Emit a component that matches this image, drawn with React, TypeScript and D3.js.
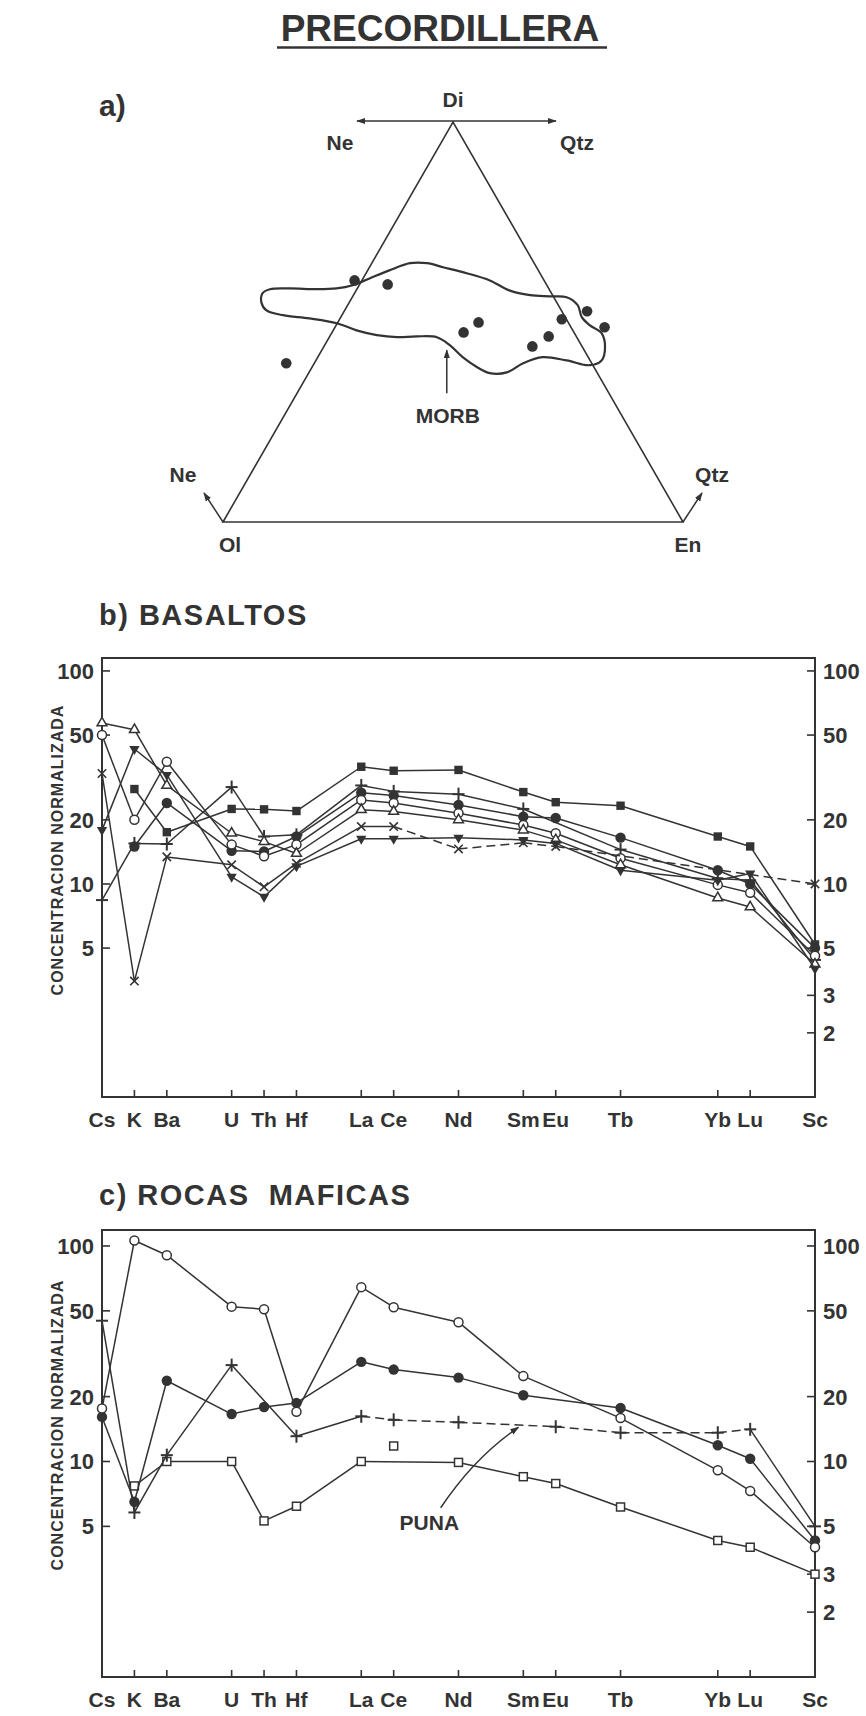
import React from "react";
import * as d3 from "d3";

// ---------------- data ----------------
const elements = ["Cs", "K", "Ba", "U", "Th", "Hf", "La", "Ce", "Nd", "Sm", "Eu", "Tb", "Yb", "Lu", "Sc"];
const elementSlots = [0, 1, 2, 4, 5, 6, 8, 9, 11, 13, 14, 16, 19, 20, 22];
const leftTicks = [100, 50, 20, 10, 5];
const rightTicks = [100, 50, 20, 10, 5, 3, 2];

// b) BASALTOS  (null = not plotted)
const basOpenCircle = [50, 20, 37.5, 15.3, 13.5, 15.3, 24.8, 24, 21.5, 18.9, 17.3, 13.2, 9.9, 9.1, 4.6];
const basOpenTriangle = [57, 53, 29, 17.3, 15.8, 13.9, 22.3, 21.9, 20, 17.9, 16.1, 12.3, 8.6, 7.8, 4.2];
const basFilledCircle = [null, 15, 24, 14.3, 14.2, 16.7, 26.8, 26, 23.5, 20.7, 20.4, 16.5, 11.6, 10, 5.0];
const basFilledSquare = [null, 27.9, 17.5, 22.5, 22.4, 22, 35.5, 34, 34.3, 27, 24.2, 23.3, 16.7, 15, 5.2];
const basPlus = [8.4, 15.5, 15.4, 28.5, 16.7, 17, 29, 27.2, 26.4, 22.5, null, 14.5, 10.6, 10.4, 4.4];
const basCross = [33, 3.5, 13.4, 12.3, 9.7, 12.5, 18.6, 18.6, 14.6, 15.6, 15, null, null, null, 10];
const basFilledDown = [17.9, 43, 32.5, 10.8, 8.7, 12.1, 16.3, 16.3, 16.5, 16.1, 15.5, 11.6, 10.4, 11.2, 4.0];

// c) ROCAS MAFICAS
const mafOpenCircle = [17.6, 106, 90.6, 52.3, 50.9, 17.0, 64.4, 52, 44.3, 24.9, null, 15.9, 9.1, 7.3, 4.0];
const mafFilledCircle = [16.1, 6.5, 23.7, 16.6, 17.9, 18.7, 29.0, 26.7, 24.5, 20.3, null, 17.7, 11.9, 10.3, 4.3];
const mafPlus = [45, 5.8, 10.7, 28, null, 13.1, 16.2, 15.6, 15.2, null, 14.5, 13.6, 13.6, 14.1, 5.0];
const mafOpenSquare = [null, 7.7, 10, 10, 5.3, 6.2, 10, null, 9.9, 8.5, 7.9, 6.15, 4.3, 4.0, 3.0];
const mafLoneSquare = [null, null, null, null, null, null, null, 11.8, null, null, null, null, null, null, null];

// a) Ol-Di-En projection (percent Di, percent En; Ol = 100 - Di - En)
const dotDi = [60.4, 59.4, 39.7, 47.4, 49.9, 43.9, 46.4, 50.7, 52.7, 48.7];
const dotEn = [-1.6, 6.1, -6.1, 28.6, 30.6, 45.3, 47.6, 48.3, 52.8, 58.6];
const morbDi = [57.2, 58.2, 58.4, 58.2, 58.4, 59.2, 60.9, 62.9, 64.7, 64.7, 63.7, 62.2, 60.4, 57.9, 56.7, 56.4, 56.2, 54.2, 51.2, 49.2, 47.2, 43.7, 40.4, 39.2, 40.4, 41.2, 39.7, 37.4, 37.2, 38.7, 41.2, 44.2, 46.2, 46.4, 46.2, 46.7, 47.9, 49.7, 50.9, 51.7, 52.9, 54.9];
const morbEn = [-20.0, -18.9, -14.7, -8.7, -4.5, -1.4, 1.4, 4.7, 8.3, 12.0, 16.0, 21.9, 27.8, 33.3, 38.4, 42.8, 46.6, 50.0, 52.4, 55.1, 58.7, 61.2, 62.1, 60.1, 54.5, 48.9, 45.4, 43.0, 39.4, 35.9, 31.5, 27.2, 23.4, 18.9, 14.7, 10.1, 5.1, -0.1, -6.7, -12.8, -17.0, -19.1];

// ---------------- style ----------------
const W = 866;
const H = 1716;
const FONT = "'Liberation Sans', Arial, Helvetica, sans-serif";
const INK = "#333333";

type Mk = "oc" | "fc" | "ot" | "fs" | "os" | "plus" | "x" | "fv";
interface Series {
  values: (number | null)[];
  marker: Mk;
  dashFrom?: number;
  dashTo?: number;
  noLine?: boolean;
}

function Marker({ m, cx, cy }: { m: Mk; cx: number; cy: number }) {
  const sw = 1.5;
  switch (m) {
    case "oc":
      return <circle cx={cx} cy={cy} r={4.5} fill="#fff" stroke={INK} strokeWidth={sw} />;
    case "fc":
      return <circle cx={cx} cy={cy} r={5.2} fill={INK} />;
    case "ot":
      return (
        <path
          d={d3.symbol().type(d3.symbolTriangle).size(42)()!}
          transform={`translate(${cx},${cy})`}
          fill="#fff"
          stroke={INK}
          strokeWidth={sw}
        />
      );
    case "fv":
      return (
        <path
          d={d3.symbol().type(d3.symbolTriangle).size(46)()!}
          transform={`translate(${cx},${cy}) rotate(180)`}
          fill={INK}
        />
      );
    case "fs":
      return <rect x={cx - 4.2} y={cy - 4.2} width={8.4} height={8.4} fill={INK} />;
    case "os":
      return <rect x={cx - 4} y={cy - 4} width={8} height={8} fill="#fff" stroke={INK} strokeWidth={sw} />;
    case "plus":
      return (
        <g stroke={INK} strokeWidth={2}>
          <line x1={cx - 6} y1={cy} x2={cx + 6} y2={cy} />
          <line x1={cx} y1={cy - 6.5} x2={cx} y2={cy + 6.5} />
        </g>
      );
    case "x":
      return (
        <g stroke={INK} strokeWidth={1.6}>
          <line x1={cx - 4.2} y1={cy - 4.2} x2={cx + 4.2} y2={cy + 4.2} />
          <line x1={cx - 4.2} y1={cy + 4.2} x2={cx + 4.2} y2={cy - 4.2} />
        </g>
      );
  }
  return null;
}

interface PanelProps {
  top: number;
  bottom: number;
  ymax: number;
  title: string;
  titleY: number;
  series: Series[];
  titleSpacing: number;
  axisTitleCy: number;
  children?: (x: d3.ScaleLinear<number, number>, y: d3.ScaleLogarithmic<number, number>) => React.ReactNode;
}

function Panel({ top, bottom, ymax, title, titleY, series, titleSpacing, axisTitleCy, children }: PanelProps) {
  const left = 102;
  const right = 815;
  const x = d3.scaleLinear().domain([0, 22]).range([left, right]);
  const y = d3.scaleLog().domain([1, ymax]).range([bottom, top]);

  const lineGen = d3
    .line<[number, number]>()
    .x((d) => d[0])
    .y((d) => d[1]);

  const seriesEls = series.map((s, si) => {
    const pts = s.values
      .map((v, i) => ({ v, i }))
      .filter((d) => d.v !== null) as { v: number; i: number }[];
    const segs: React.ReactNode[] = [];
    if (!s.noLine) {
      for (let k = 0; k < pts.length - 1; k++) {
        const a = pts[k];
        const b = pts[k + 1];
        const dashed =
          s.dashFrom !== undefined && a.i >= s.dashFrom && (s.dashTo === undefined || b.i <= s.dashTo);
        segs.push(
          <path
            key={`l${si}-${k}`}
            d={lineGen([
              [x(elementSlots[a.i]), y(a.v)],
              [x(elementSlots[b.i]), y(b.v)],
            ])!}
            fill="none"
            stroke={INK}
            strokeWidth={1.5}
            strokeDasharray={dashed ? "9,5" : undefined}
          />
        );
      }
    }
    const marks = pts.map((p, k) => (
      <Marker key={`m${si}-${k}`} m={s.marker} cx={x(elementSlots[p.i])} cy={y(p.v)} />
    ));
    return (
      <g key={si}>
        {segs}
        {marks}
      </g>
    );
  });

  return (
    <g>
      <text
        x={99}
        y={titleY}
        fontFamily={FONT}
        fontWeight="bold"
        fontSize={29}
        letterSpacing={titleSpacing}
        fill={INK}
        style={{ whiteSpace: "pre" }}
      >
        {title}
      </text>
      <text
        transform={`translate(63,${axisTitleCy}) rotate(-90)`}
        textAnchor="middle"
        fontFamily={FONT}
        fontWeight="bold"
        fontSize={16}
        letterSpacing={1}
        fill={INK}
      >
        CONCENTRACION NORMALIZADA
      </text>
      <rect x={left} y={top} width={right - left} height={bottom - top} fill="none" stroke={INK} strokeWidth={2} />
      {leftTicks.map((t) => (
        <g key={`lt${t}`}>
          <line x1={left} x2={left + 8} y1={y(t)} y2={y(t)} stroke={INK} strokeWidth={1.6} />
          <text x={94} y={y(t)} dy="0.36em" textAnchor="end" fontFamily={FONT} fontWeight="bold" fontSize={22} fill={INK}>
            {t}
          </text>
        </g>
      ))}
      {rightTicks.map((t) => (
        <g key={`rt${t}`}>
          <line x1={right - 8} x2={right} y1={y(t)} y2={y(t)} stroke={INK} strokeWidth={1.6} />
          <text x={823} y={y(t)} dy="0.36em" textAnchor="start" fontFamily={FONT} fontWeight="bold" fontSize={22} fill={INK}>
            {t}
          </text>
        </g>
      ))}
      {elements.map((e, i) => (
        <g key={e}>
          {i > 0 && i < elements.length - 1 && (
            <line x1={x(elementSlots[i])} x2={x(elementSlots[i])} y1={bottom} y2={bottom - 7} stroke={INK} strokeWidth={1.6} />
          )}
          <text
            x={x(elementSlots[i])}
            y={bottom + 30}
            textAnchor="middle"
            fontFamily={FONT}
            fontWeight="bold"
            fontSize={21}
            fill={INK}
          >
            {e}
          </text>
        </g>
      ))}
      {seriesEls}
      {children && children(x, y)}
    </g>
  );
}

// ---------------- ternary ----------------
const triU = d3.scaleLinear().domain([0, 100]).range([223, 683]);
const triV = d3.scaleLinear().domain([0, 100]).range([522, 122]);
function proj(di: number, en: number): [number, number] {
  return [triU(en + di / 2), triV(di)];
}

function Ternary() {
  const ol = proj(0, 0);
  const en = proj(0, 100);
  const di = proj(100, 0);
  const morbPts = morbDi.map((d, i) => proj(d, morbEn[i]));
  const morbPath = d3.line<[number, number]>().curve(d3.curveCatmullRomClosed.alpha(0.5))(morbPts)!;
  const tip = proj(44.2, 27.2);
  const lab = { fontFamily: FONT, fontWeight: "bold" as const, fontSize: 21, fill: INK };
  return (
    <g>
      <path d={`M${ol[0]},${ol[1]}L${di[0]},${di[1]}L${en[0]},${en[1]}Z`} fill="none" stroke={INK} strokeWidth={1.6} />
      <line x1={di[0] - 96} y1={di[1] - 1} x2={di[0] + 103} y2={di[1] - 1} stroke={INK} strokeWidth={1.5} markerStart="url(#arrS)" markerEnd="url(#arrE)" />
      <text x={di[0]} y={107} textAnchor="middle" {...lab}>Di</text>
      <text x={340} y={150} textAnchor="middle" {...lab}>Ne</text>
      <text x={577} y={150} textAnchor="middle" {...lab}>Qtz</text>
      <line x1={ol[0]} y1={ol[1]} x2={ol[0] - 19} y2={ol[1] - 29} stroke={INK} strokeWidth={1.5} markerEnd="url(#arrE)" />
      <line x1={en[0]} y1={en[1]} x2={en[0] + 19} y2={en[1] - 29} stroke={INK} strokeWidth={1.5} markerEnd="url(#arrE)" />
      <text x={183} y={482} textAnchor="middle" {...lab}>Ne</text>
      <text x={712} y={482} textAnchor="middle" {...lab}>Qtz</text>
      <text x={ol[0] + 7} y={552} textAnchor="middle" {...lab}>Ol</text>
      <text x={en[0] + 5} y={552} textAnchor="middle" {...lab}>En</text>
      <path d={morbPath} fill="none" stroke={INK} strokeWidth={2.2} />
      <line x1={tip[0] - 3} y1={tip[1] + 48} x2={tip[0] - 3} y2={tip[1] + 5} stroke={INK} strokeWidth={1.5} markerEnd="url(#arrE)" />
      <text x={tip[0] - 2} y={tip[1] + 78} textAnchor="middle" {...lab}>MORB</text>
      {dotDi.map((d, i) => {
        const p = proj(d, dotEn[i]);
        return <circle key={i} cx={p[0]} cy={p[1]} r={5.3} fill={INK} />;
      })}
    </g>
  );
}

export default function App() {
  const basSeries: Series[] = [
    { values: basFilledSquare, marker: "fs" },
    { values: basPlus, marker: "plus" },
    { values: basFilledCircle, marker: "fc" },
    { values: basOpenCircle, marker: "oc" },
    { values: basOpenTriangle, marker: "ot" },
    { values: basCross, marker: "x", dashFrom: 7 },
    { values: basFilledDown, marker: "fv" },
  ];
  const mafSeries: Series[] = [
    { values: mafOpenSquare, marker: "os" },
    { values: mafLoneSquare, marker: "os", noLine: true },
    { values: mafPlus, marker: "plus", dashFrom: 6, dashTo: 13 },
    { values: mafFilledCircle, marker: "fc" },
    { values: mafOpenCircle, marker: "oc" },
  ];
  return (
    <svg width={W} height={H} style={{ position: "absolute", left: 0, top: 0, background: "#fff" }}>
      <defs>
        <marker id="arrE" viewBox="0 0 10 10" refX="9" refY="5" markerWidth="9" markerHeight="9" markerUnits="userSpaceOnUse" orient="auto">
          <path d="M0,1.5L10,5L0,8.5Z" fill={INK} />
        </marker>
        <marker id="arrS" viewBox="0 0 10 10" refX="1" refY="5" markerWidth="9" markerHeight="9" markerUnits="userSpaceOnUse" orient="auto">
          <path d="M10,1.5L0,5L10,8.5Z" fill={INK} />
        </marker>
      </defs>
      <rect x={0} y={0} width={W} height={H} fill="#fff" />
      <text x={440} y={41} textAnchor="middle" fontFamily={FONT} fontWeight="bold" fontSize={37} fill={INK}>
        PRECORDILLERA
      </text>
      <line x1={277} x2={607} y1={47.5} y2={47.5} stroke={INK} strokeWidth={2.5} />
      <text x={99} y={116} fontFamily={FONT} fontWeight="bold" fontSize={30} fill={INK}>
        a)
      </text>
      <Ternary />
      <Panel
        top={658}
        bottom={1097}
        ymax={115}
        title="b) BASALTOS"
        titleY={625}
        titleSpacing={1.5}
        axisTitleCy={850}
        series={basSeries}
      />
      <Panel
        top={1230}
        bottom={1677}
        ymax={118.6}
        title="c) ROCAS  MAFICAS"
        titleY={1205}
        titleSpacing={1.5}
        axisTitleCy={1425}
        series={mafSeries}
      >
        {(x, y) => {
          const tail: [number, number] = [x(10.45), y(6.1)];
          const ctrl: [number, number] = [x(11.5), y(10.5)];
          const tipP: [number, number] = [x(12.85), y(14.4)];
          return (
            <g>
              <path
                d={`M${tail[0]},${tail[1]}Q${ctrl[0]},${ctrl[1]} ${tipP[0]},${tipP[1]}`}
                fill="none"
                stroke={INK}
                strokeWidth={1.5}
                markerEnd="url(#arrE)"
              />
              <text x={x(10.1)} y={y(4.8)} textAnchor="middle" fontFamily={FONT} fontWeight="bold" fontSize={21} fill={INK}>
                PUNA
              </text>
            </g>
          );
        }}
      </Panel>
    </svg>
  );
}
